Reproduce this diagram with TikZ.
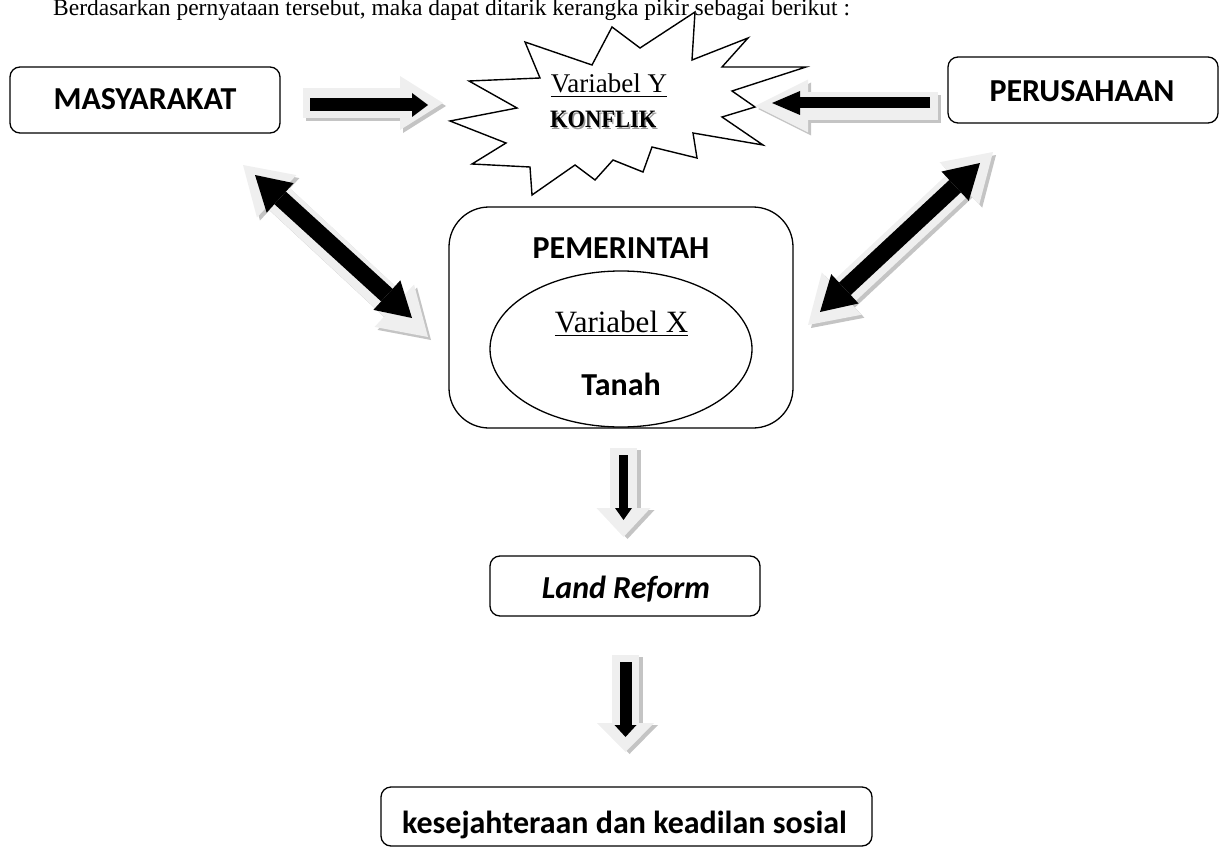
\documentclass[tikz,border=0pt]{standalone}
\usepackage{fontspec}
\setmainfont{Liberation Serif}
\newfontfamily\calib{Carlito}
\newfontfamily\konf{Liberation Serif}[FakeStretch=0.9]
\usetikzlibrary{arrows.meta,shapes.geometric}
\definecolor{arrlight}{HTML}{EFEFEF}
\definecolor{arrshadow}{HTML}{C4C4C4}
\definecolor{txtshadow}{HTML}{9A9A9A}
\newcommand\myul[1]{\setbox0=\hbox{#1}\rlap{\rule[-4.2pt]{\wd0}{1.5pt}}\box0}
\tikzset{
  boxsty/.style={draw, line width=1.3pt, rounded corners=10pt, inner sep=0pt, fill=white},
  lbl/.style={font=\calib\bfseries\fontsize{32}{38}\selectfont, anchor=base, inner sep=0pt},
  serif/.style={anchor=base, inner sep=0pt},
  fat/.style n args={3}{line width=#1pt, -{Triangle[width=#2pt,length=#3pt,line width=0pt]}},
  fatdbl/.style n args={3}{line width=#1pt, {Triangle[width=#2pt,length=#3pt,line width=0pt]}-{Triangle[width=#2pt,length=#3pt,line width=0pt]}},
}
\begin{document}
\begin{tikzpicture}[x=1pt,y=-1pt]
\useasboundingbox (0,0) rectangle (1225,848);

% top sentence (partly cut off, as in the reference)
\node[serif, anchor=base west, font=\fontsize{23.5}{28}\selectfont] (intro) at (53,16)
  {Berdasarkan pernyataan tersebut, maka dapat ditarik kerangka pikir sebagai berikut :};

% star (Variabel Y)
\draw[line width=1.4pt, fill=white, line join=miter]
  (695,12) -- (692,60) -- (748,38) -- (722,67) -- (806,67) -- (732,91) -- (755,107)
  -- (722,117) -- (763,145) -- (693,133) -- (697,158) -- (652,147) -- (643,172)
  -- (613,160) -- (595,180) -- (575,165) -- (532,195) -- (530,167) -- (472,164)
  -- (506,143) -- (450,121) -- (517,108) -- (469,81) -- (540,78) -- (525,42)
  -- (592,65) -- (612,27) -- (640,48) -- cycle;
\node[serif, font=\fontsize{27}{32}\selectfont] (vary) at (609,93) {\myul{Variabel Y}};
\node[serif, anchor=base west, text=txtshadow, font=\konf\bfseries\fontsize{25}{30}\selectfont] (konfs) at (551.5,129.5) {KONFLIK};
\node[serif, anchor=base west, font=\konf\bfseries\fontsize{25}{30}\selectfont] (konf) at (550,128) {KONFLIK};

% boxes
\node[boxsty, minimum width=270pt, minimum height=66pt] (masy) at (145,100) {};
\node[lbl] (masyt) at (145,110) {MASYARAKAT};
\node[boxsty, minimum width=270pt, minimum height=66pt] (peru) at (1083,90) {};
\node[lbl] (perut) at (1082,102) {PERUSAHAAN};

\node[draw, line width=1.3pt, rounded corners=40pt, minimum width=344pt, minimum height=221pt, inner sep=0pt] (pem) at (621,317.5) {};
\node[lbl] (pemt) at (621,258) {PEMERINTAH};
\node[draw, ellipse, line width=1.3pt, minimum width=262pt, minimum height=156pt, inner sep=0pt] (elx) at (621,349) {};
\node[serif, font=\fontsize{31}{36}\selectfont] (varx) at (621.5,332) {\myul{Variabel X}};
\node[lbl] (tanah) at (621,395) {Tanah};

\node[boxsty, minimum width=270pt, minimum height=60pt] (land) at (625,586) {};
\node[lbl, font=\calib\bfseries\itshape\fontsize{32}{38}\selectfont] (landt) at (626,598) {Land Reform};

\node[boxsty, minimum width=491pt, minimum height=59pt] (kes) at (626.5,816.5) {};
\node[lbl] (kest) at (624.5,833) {kesejahteraan dan keadilan sosial};

% arrow end points
\coordinate (a1os) at (303,103); \coordinate (a1oe) at (443,103);
\coordinate (a1is) at (310,105); \coordinate (a1ie) at (428,105);
\coordinate (a2os) at (938,106); \coordinate (a2oe) at (755,106);
\coordinate (a2is) at (930,103); \coordinate (a2ie) at (772,103);
\coordinate (a3os) at (243,165); \coordinate (a3oe) at (428,337);
\coordinate (a3is) at (255,175); \coordinate (a3ie) at (412,318);
\coordinate (a4os) at (993,152); \coordinate (a4oe) at (808,325);
\coordinate (a4is) at (980,163); \coordinate (a4ie) at (820,312);
\coordinate (a5os) at (623.5,448); \coordinate (a5oe) at (623.5,537);
\coordinate (a5is) at (623.5,455); \coordinate (a5ie) at (623.5,520);
\coordinate (a6os) at (625.5,655); \coordinate (a6oe) at (625.5,752);
\coordinate (a6is) at (625.5,662); \coordinate (a6ie) at (625.5,737);

% A1 MASYARAKAT -> star
\draw[arrshadow, fat={30}{54}{43}] ([shift={(3,3)}]a1os) -- ([shift={(3,3)}]a1oe);
\draw[arrlight, fat={30}{54}{43}] (a1os) -- (a1oe);
\draw[black, fat={13}{24}{16}] (a1is) -- (a1ie);
% A2 PERUSAHAAN -> star
\draw[arrshadow, fat={28}{53}{53}] ([shift={(3,3)}]a2os) -- ([shift={(3,3)}]a2oe);
\draw[arrlight, fat={28}{53}{53}] (a2os) -- (a2oe);
\draw[black, fat={11}{24}{28}] (a2is) -- (a2ie);
% A3 MASYARAKAT <-> PEMERINTAH
\draw[arrshadow, fatdbl={30}{58}{46}] ([shift={(3,3)}]a3os) -- ([shift={(3,3)}]a3oe);
\draw[arrlight, fatdbl={30}{58}{46}] (a3os) -- (a3oe);
\draw[black, fatdbl={17}{40}{34}] (a3is) -- (a3ie);
% A4 PERUSAHAAN <-> PEMERINTAH
\draw[arrshadow, fatdbl={30}{58}{46}] ([shift={(3,3)}]a4os) -- ([shift={(3,3)}]a4oe);
\draw[arrlight, fatdbl={30}{58}{46}] (a4os) -- (a4oe);
\draw[black, fatdbl={17}{40}{34}] (a4is) -- (a4ie);
% A5 PEMERINTAH -> Land Reform
\draw[arrshadow, fat={27}{54}{29}] ([shift={(4,2)}]a5os) -- ([shift={(4,2)}]a5oe);
\draw[arrlight, fat={27}{54}{29}] (a5os) -- (a5oe);
\draw[black, fat={9}{17}{12}] (a5is) -- (a5ie);
% A6 Land Reform -> kesejahteraan
\draw[arrshadow, fat={27}{57}{29}] ([shift={(4,2)}]a6os) -- ([shift={(4,2)}]a6oe);
\draw[arrlight, fat={27}{57}{29}] (a6os) -- (a6oe);
\draw[black, fat={12}{22}{12}] (a6is) -- (a6ie);
\end{tikzpicture}
\end{document}
